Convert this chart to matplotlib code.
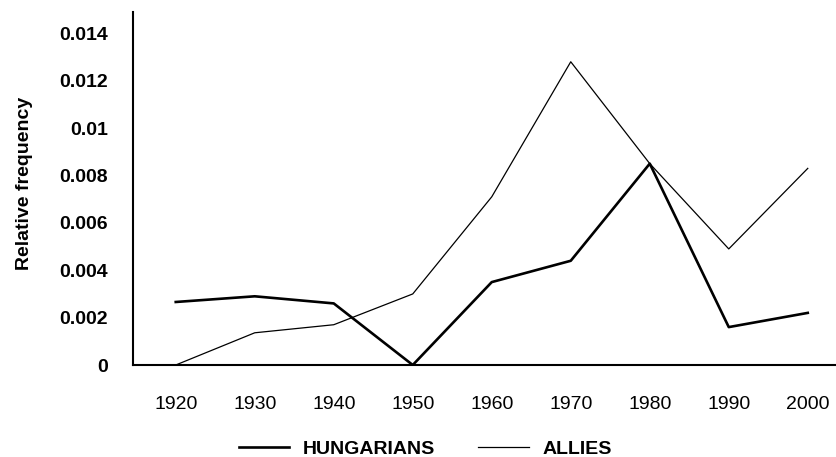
import matplotlib.pyplot as plt

plt.rcParams['font.family'] = ['Liberation Sans', 'DejaVu Sans']

years = [1920, 1930, 1940, 1950, 1960, 1970, 1980, 1990, 2000]
hungarians = [0.00266, 0.0029, 0.0026, 0.0, 0.0035, 0.0044, 0.0085, 0.0016, 0.0022]
allies = [0.0, 0.00136, 0.0017, 0.003, 0.0071, 0.0128, 0.0085, 0.0049, 0.0083]

yticks = [0, 0.002, 0.004, 0.006, 0.008, 0.01, 0.012, 0.014]
ytick_labels = ['0', '0.002', '0.004', '0.006', '0.008', '0.01', '0.012', '0.014']

fig = plt.figure(figsize=(8.37, 4.57), dpi=100)
ax = fig.add_axes([0.159, 0.2013, 0.841, 0.7724])

ax.plot(years, hungarians, color='black', lw=1.9, label='HUNGARIANS')
ax.plot(years, allies, color='black', lw=0.9, label='ALLIES')

ax.set_xlim(1914.6, 2003.7)
ax.set_ylim(0, 0.0149)
ax.set_xticks(years)
ax.set_xticklabels([str(y) for y in years], fontsize=14)
ax.set_yticks(yticks)
ax.set_yticklabels(ytick_labels, fontsize=14, fontweight='bold')
ax.tick_params(axis='x', length=0, pad=22)
ax.tick_params(axis='y', length=0, pad=18)

ax.set_ylabel('Relative frequency', fontsize=14, fontweight='bold')
ax.yaxis.set_label_coords(-0.142, 0.515)

ax.spines['top'].set_visible(False)
ax.spines['right'].set_visible(False)
ax.spines['left'].set_linewidth(1.5)
ax.spines['bottom'].set_linewidth(1.5)

fig.legend(loc='center', bbox_to_anchor=(0.508, 0.018), ncol=2, frameon=False,
           prop={'size': 14, 'weight': 'bold'}, handlelength=2.6,
           handletextpad=0.7, columnspacing=2.2)

plt.savefig('out.png', dpi=100)
